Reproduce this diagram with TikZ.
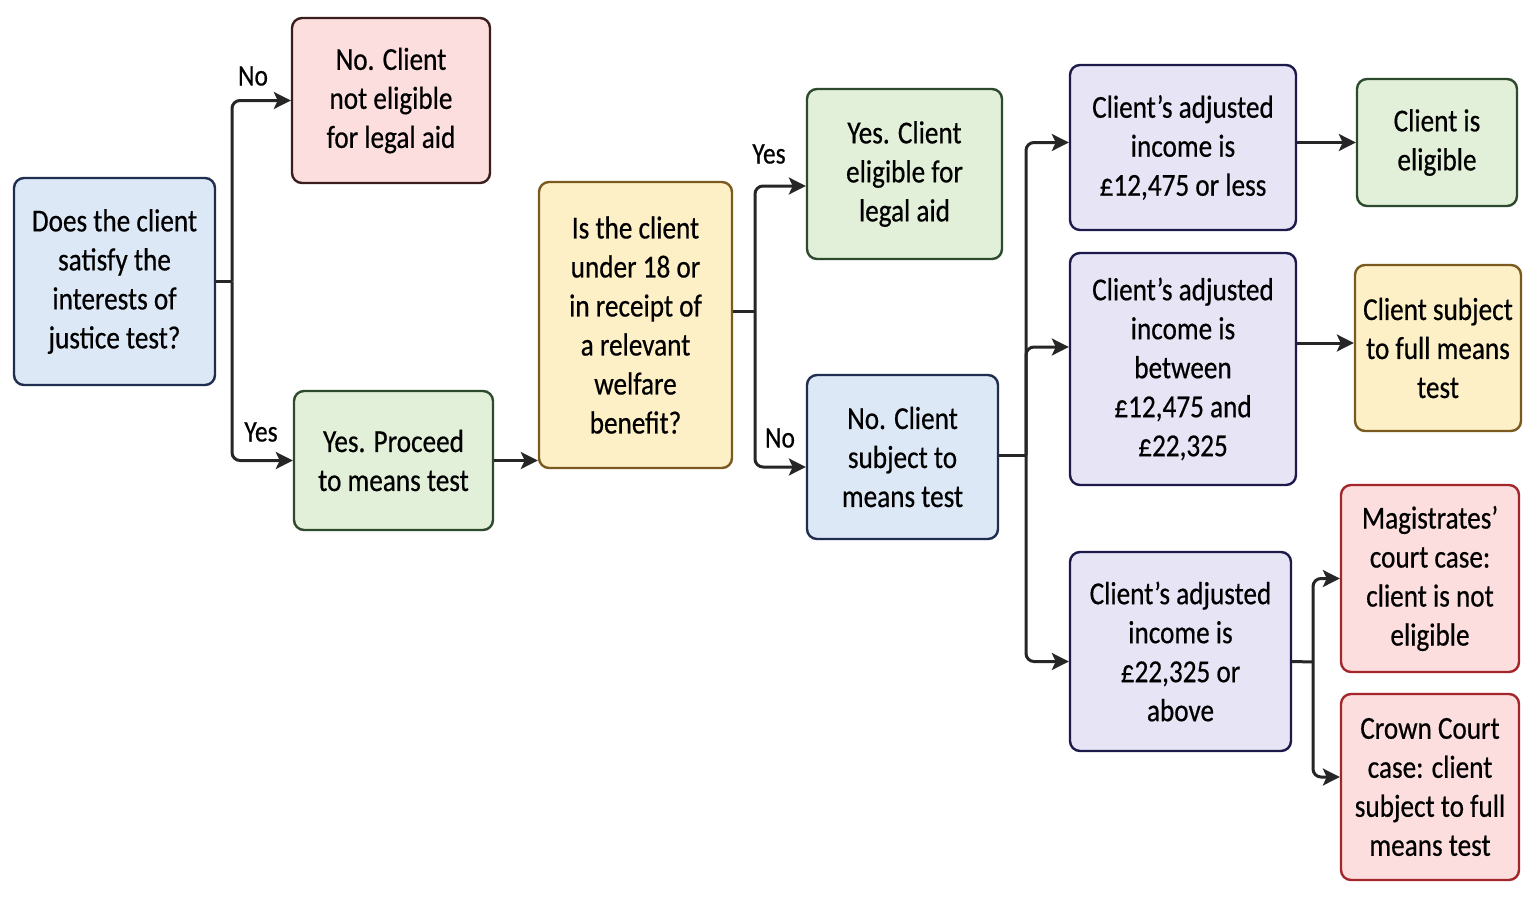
\documentclass[tikz,border=0pt]{standalone}
\usepackage{fontspec}
\setmainfont{Carlito}[FakeStretch=0.85,FakeBold=0.5]
\usetikzlibrary{arrows.meta,calc}
\definecolor{bfill}{HTML}{DCE8F6}\definecolor{bdraw}{HTML}{1F2D4F}
\definecolor{pfill}{HTML}{FCDEDE}\definecolor{pdraw}{HTML}{3A1E1E}
\definecolor{rdraw}{HTML}{A3262A}
\definecolor{gfill}{HTML}{E3F0D9}\definecolor{gdraw}{HTML}{2D4A2D}
\definecolor{yfill}{HTML}{FDF0C6}\definecolor{ydraw}{HTML}{7A5A1E}
\definecolor{lfill}{HTML}{E7E4F6}\definecolor{ldraw}{HTML}{1C1A4A}
\definecolor{conncol}{HTML}{262626}
\tikzset{
  box/.style={draw, line width=2.4pt, rounded corners=10pt, align=center,
    inner sep=0pt, font=\fontsize{32}{39}\selectfont},
  bluebox/.style={box, fill=bfill, draw=bdraw},
  pinkbox/.style={box, fill=pfill, draw=pdraw},
  redbox/.style={box, fill=pfill, draw=rdraw},
  greenbox/.style={box, fill=gfill, draw=gdraw},
  yellowbox/.style={box, fill=yfill, draw=ydraw},
  lavbox/.style={box, fill=lfill, draw=ldraw},
  conn/.style={draw=conncol, line width=3pt},
  arr/.style={conn, rounded corners=8pt, -{Stealth[length=17pt,width=17pt,inset=4pt]}},
  lbl/.style={font=\fontsize{30}{32}\selectfont, inner sep=0pt}
}
\begin{document}
\begin{tikzpicture}[x=1pt,y=-1pt]
\useasboundingbox[fill=white] (0,0) rectangle (1536,899);
% nodes
\node[bluebox, minimum width=201pt, minimum height=207pt] (q1) at (114.5,281.5) {Does the client\\satisfy the\\interests of\\justice test?};
\node[pinkbox, minimum width=198pt, minimum height=165pt] (no1) at (391,100.5) {No. Client\\not eligible\\for legal aid};
\node[greenbox, minimum width=199pt, minimum height=139pt] (yes1) at (393.5,460.5) {Yes. Proceed\\to means test};
\node[yellowbox, minimum width=193pt, minimum height=286pt] (q2) at (635.5,325) {Is the client\\under 18 or\\in receipt of\\a relevant\\welfare\\benefit?};
\node[greenbox, minimum width=195pt, minimum height=170pt] (yes2) at (904.5,174) {Yes. Client\\eligible for\\legal aid};
\node[bluebox, minimum width=191pt, minimum height=164pt] (no2) at (902.5,457) {No. Client\\subject to\\means test};
\node[lavbox, minimum width=226pt, minimum height=165pt] (inc1) at (1183,147.5) {Client’s adjusted\\income is\\£12,475 or less};
\node[lavbox, minimum width=226pt, minimum height=232pt] (inc2) at (1183,369) {Client’s adjusted\\income is\\between\\£12,475 and\\£22,325};
\node[lavbox, minimum width=221pt, minimum height=199pt] (inc3) at (1180.5,651.5) {Client’s adjusted\\income is\\£22,325 or\\above};
\node[greenbox, minimum width=160pt, minimum height=127pt] (elig) at (1437,142.5) {Client is\\eligible};
\node[yellowbox, minimum width=166pt, minimum height=166pt] (full) at (1438,348) {Client subject\\to full means\\test};
\node[redbox, minimum width=178pt, minimum height=187pt] (mag) at (1430,578.5) {Magistrates’\\court case:\\client is not\\eligible};
\node[redbox, minimum width=178pt, minimum height=186pt] (crown) at (1430,787) {Crown Court\\case: client\\subject to full\\means test};
% junctions and ends
\coordinate (j1) at (232,281.5);
\coordinate (j2) at (755,311);
\coordinate (j3) at (1026,455);
\coordinate (j4) at (1313,662);
\coordinate (e1s) at ($(inc1.east)+(0,-5)$);
\coordinate (e1t) at (e1s -| elig.west);
\coordinate (e2s) at ($(inc2.east)+(0,-26)$);
\coordinate (e2t) at (e2s -| full.west);
% connectors
\draw[conn] (q1.east) -- (j1);
\draw[arr] (j1) |- (no1.west);
\draw[arr] (j1) |- (yes1.west);
\draw[arr] (yes1.east) -- (yes1.east -| q2.west);
\draw[conn] ($(q2.east)+(0,-14)$) -- (j2);
\draw[arr] (j2) |- ($(yes2.west)+(0,12)$);
\draw[arr] (j2) |- ($(no2.west)+(0,10)$);
\draw[conn] ($(no2.east)+(0,-2)$) -- (j3);
\draw[arr] (j3) |- ($(inc1.west)+(0,-5)$);
\draw[arr] (j3) |- ($(inc2.west)+(0,-22)$);
\draw[arr] (j3) |- ($(inc3.west)+(0,10)$);
\draw[arr] (e1s) -- (e1t);
\draw[arr] (e2s) -- (e2t);
\draw[conn] ($(inc3.east)+(0,10)$) -- (j4);
\draw[arr] (j4) |- (mag.west);
\draw[arr] (j4) |- ($(crown.west)+(0,-10)$);
% labels
\node[lbl] (lno1) at (253,76) {No};
\node[lbl] (lyes1) at (261,432) {Yes};
\node[lbl] (lyes2) at (769,154) {Yes};
\node[lbl] (lno2) at (780,438) {No};
\end{tikzpicture}
\end{document}
